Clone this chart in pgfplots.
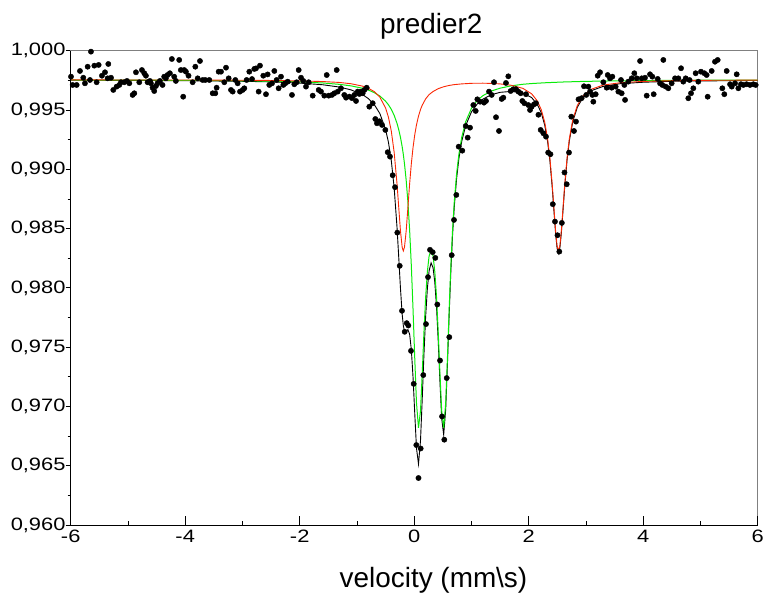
\documentclass[border=0pt]{standalone}
\usepackage{fontspec}
\setmainfont{Liberation Sans}
\newfontfamily\tickfont[FakeStretch=1.22]{Liberation Sans}
\usepackage{pgfplots}
\pgfplotsset{compat=1.18}
\definecolor{fitred}{RGB}{250,40,5}
\definecolor{fitgreen}{RGB}{10,235,10}
\begin{document}
\begin{tikzpicture}
\path[use as bounding box] (-70.7bp,-71.9bp) rectangle (698.3bp,525.1bp);
% main axis: data, y ticks
\begin{axis}[
  scale only axis, width=687bp, height=474.4bp,
  at={(0bp,0bp)}, anchor=south west,
  xmin=-6, xmax=6, ymin=0.960, ymax=1.000,
  xtick=\empty,
  ytick={0.960,0.965,0.970,0.975,0.980,0.985,0.990,0.995,1.000},
  minor y tick num=1,
  ytick pos=left,
  tick align=outside,
  major tick length=5bp, minor tick length=3bp,
  tick style={black, line width=0.8bp},
  axis line style={black!50, line width=1bp},
  yticklabel style={font=\tickfont\fontsize{18}{20}\selectfont, inner xsep=0pt,
    /pgf/number format/.cd, fixed, fixed zerofill, precision=3, use comma, assume math mode=true},
]
\addplot[only marks, mark=*, mark size=2.65bp, black] table {
-5.995 0.99781
-5.966 0.99711
-5.896 0.99711
-5.838 0.99829
-5.780 0.99772
-5.751 0.99725
-5.704 0.99865
-5.663 0.99753
-5.646 0.99992
-5.587 0.99874
-5.547 0.99734
-5.512 0.99880
-5.454 0.99789
-5.401 0.99818
-5.355 0.99767
-5.343 0.99888
-5.296 0.99772
-5.256 0.99669
-5.198 0.99697
-5.151 0.99711
-5.122 0.99734
-5.064 0.99734
-5.017 0.99745
-4.976 0.99725
-4.918 0.99627
-4.889 0.99641
-4.860 0.99818
-4.802 0.99734
-4.756 0.99837
-4.715 0.99810
-4.686 0.99789
-4.657 0.99734
-4.616 0.99745
-4.599 0.99725
-4.570 0.99688
-4.541 0.99660
-4.512 0.99702
-4.483 0.99725
-4.442 0.99745
-4.396 0.99711
-4.367 0.99781
-4.338 0.99767
-4.309 0.99795
-4.268 0.99810
-4.233 0.99930
-4.192 0.99781
-4.163 0.99745
-4.105 0.99922
-4.076 0.99837
-4.035 0.99612
-4.017 0.99837
-3.988 0.99823
-3.942 0.99789
-3.870 0.99734
-3.823 0.99865
-3.782 0.99767
-3.742 0.99913
-3.695 0.99753
-3.649 0.99753
-3.579 0.99753
-3.520 0.99641
-3.474 0.99641
-3.451 0.99688
-3.416 0.99823
-3.375 0.99823
-3.317 0.99734
-3.287 0.99857
-3.241 0.99767
-3.200 0.99669
-3.171 0.99655
-3.124 0.99753
-3.084 0.99725
-3.043 0.99655
-2.996 0.99669
-2.967 0.99683
-2.927 0.99753
-2.880 0.99823
-2.833 0.99761
-2.793 0.99846
-2.764 0.99851
-2.717 0.99655
-2.694 0.99874
-2.636 0.99789
-2.589 0.99633
-2.560 0.99800
-2.531 0.99711
-2.484 0.99725
-2.443 0.99829
-2.403 0.99753
-2.368 0.99683
-2.327 0.99781
-2.286 0.99711
-2.251 0.99725
-2.210 0.99739
-2.135 0.99627
-2.094 0.99717
-2.053 0.99734
-2.018 0.99837
-1.977 0.99772
-1.937 0.99745
-1.890 0.99697
-1.843 0.99734
-1.773 0.99621
-1.668 0.99669
-1.628 0.99655
-1.570 0.99621
-1.528 0.99795
-1.494 0.99621
-1.436 0.99627
-1.395 0.99641
-1.354 0.99837
-1.336 0.99655
-1.279 0.99683
-1.221 0.99627
-1.191 0.99604
-1.133 0.99613
-1.086 0.99600
-1.046 0.99627
-1.016 0.99576
-0.987 0.99655
-0.958 0.99635
-0.929 0.99655
-0.900 0.99641
-0.871 0.99669
-0.830 0.99688
-0.784 0.99528
-0.725 0.99557
-0.679 0.99424
-0.650 0.99388
-0.609 0.99405
-0.562 0.99374
-0.504 0.99332
-0.463 0.99144
-0.423 0.99107
-0.376 0.98950
-0.335 0.98849
-0.295 0.98466
-0.253 0.98186
-0.213 0.97807
-0.166 0.97630
-0.131 0.97703
-0.103 0.97683
-0.056 0.97469
-0.009 0.97191
0.037 0.96675
0.075 0.96397
0.113 0.96646
0.159 0.97265
0.206 0.97695
0.241 0.98091
0.276 0.98321
0.323 0.98301
0.369 0.98253
0.404 0.97860
0.451 0.97388
0.486 0.96916
0.526 0.96720
0.568 0.97240
0.613 0.97585
0.655 0.98276
0.695 0.98573
0.736 0.98784
0.777 0.99191
0.840 0.99157
0.900 0.99365
0.934 0.99267
0.975 0.99351
1.033 0.99542
1.074 0.99492
1.103 0.99590
1.150 0.99570
1.219 0.99562
1.254 0.99576
1.307 0.99655
1.353 0.99627
1.394 0.99734
1.429 0.99439
1.481 0.99323
1.528 0.99593
1.557 0.99604
1.603 0.99728
1.644 0.99784
1.685 0.99660
1.731 0.99675
1.778 0.99675
1.819 0.99655
1.860 0.99641
1.889 0.99576
1.924 0.99557
1.953 0.99633
1.993 0.99542
2.023 0.99500
2.052 0.99528
2.093 0.99548
2.128 0.99557
2.170 0.99460
2.209 0.99332
2.256 0.99304
2.302 0.99275
2.340 0.99141
2.380 0.99127
2.421 0.98706
2.459 0.98559
2.503 0.98444
2.535 0.98306
2.579 0.98548
2.625 0.98973
2.664 0.98874
2.704 0.99141
2.744 0.99444
2.791 0.99323
2.826 0.99402
2.870 0.99590
2.925 0.99600
2.966 0.99700
3.005 0.99627
3.042 0.99697
3.071 0.99655
3.112 0.99627
3.129 0.99570
3.170 0.99633
3.205 0.99789
3.246 0.99818
3.304 0.99734
3.362 0.99688
3.380 0.99795
3.420 0.99767
3.449 0.99688
3.461 0.99781
3.519 0.99697
3.566 0.99655
3.612 0.99753
3.624 0.99641
3.671 0.99711
3.683 0.99585
3.740 0.99739
3.799 0.99767
3.845 0.99810
3.886 0.99767
3.945 0.99913
3.974 0.99767
4.032 0.99772
4.061 0.99621
4.119 0.99801
4.160 0.99781
4.183 0.99633
4.253 0.99762
4.294 0.99725
4.334 0.99711
4.352 0.99922
4.393 0.99697
4.439 0.99683
4.497 0.99725
4.556 0.99767
4.614 0.99767
4.661 0.99852
4.701 0.99739
4.742 0.99767
4.788 0.99599
4.810 0.99753
4.835 0.99641
4.876 0.99683
4.916 0.99810
4.963 0.99739
5.009 0.99823
5.068 0.99810
5.108 0.99795
5.126 0.99612
5.196 0.99829
5.254 0.99907
5.301 0.99922
5.382 0.99683
5.417 0.99633
5.458 0.99829
5.517 0.99717
5.546 0.99697
5.604 0.99725
5.633 0.99801
5.662 0.99683
5.708 0.99717
5.749 0.99711
5.807 0.99717
5.866 0.99711
5.924 0.99717
5.965 0.99711
};
% total fit
\addplot[black, line width=0.9bp, mark=none] table {
-6 0.99751
-5 0.99750
-4 0.99747
-3 0.99742
-2.5 0.99737
-2 0.99727
-1.6 0.99713
-1.3 0.99693
-1.1 0.99669
-0.9 0.99629
-0.8 0.99596
-0.7 0.99548
-0.6 0.99470
-0.5 0.99336
-0.45 0.99228
-0.4 0.99073
-0.35 0.98843
-0.3 0.98509
-0.27 0.98258
-0.24 0.97996
-0.21 0.97777
-0.19 0.97682
-0.17 0.97635
-0.14 0.97634
-0.11 0.97648
-0.08 0.97610
-0.05 0.97479
-0.02 0.97244
0.01 0.96938
0.04 0.96649
0.075 0.96515
0.11 0.96711
0.14 0.97061
0.17 0.97438
0.2 0.97760
0.23 0.97996
0.26 0.98143
0.295 0.98211
0.33 0.98169
0.36 0.98047
0.39 0.97839
0.42 0.97549
0.45 0.97206
0.48 0.96899
0.515 0.96762
0.55 0.96974
0.58 0.97349
0.61 0.97766
0.64 0.98140
0.67 0.98445
0.70 0.98684
0.74 0.98919
0.78 0.99088
0.83 0.99235
0.9 0.99370
1.0 0.99484
1.1 0.99550
1.2 0.99592
1.35 0.99629
1.5 0.99649
1.7 0.99657
1.9 0.99643
2.05 0.99605
2.15 0.99548
2.22 0.99476
2.28 0.99372
2.33 0.99235
2.37 0.99073
2.41 0.98853
2.44 0.98655
2.47 0.98459
2.495 0.98337
2.52 0.98291
2.545 0.98338
2.57 0.98461
2.6 0.98659
2.63 0.98858
2.67 0.99078
2.71 0.99241
2.77 0.99403
2.85 0.99524
2.95 0.99606
3.1 0.99664
3.3 0.99699
3.6 0.99722
4 0.99734
4.5 0.99742
5 0.99745
6 0.99749
};
% green doublet
\addplot[fitgreen, line width=1bp, mark=none] table {
-6 0.99753
-5 0.99752
-4 0.99750
-3 0.99746
-2.5 0.99743
-2 0.99737
-1.6 0.99728
-1.3 0.99716
-1.1 0.99703
-0.9 0.99683
-0.8 0.99668
-0.7 0.99647
-0.6 0.99618
-0.5 0.99574
-0.45 0.99544
-0.4 0.99506
-0.35 0.99455
-0.3 0.99387
-0.27 0.99334
-0.24 0.99270
-0.21 0.99190
-0.19 0.99125
-0.17 0.99048
-0.14 0.98907
-0.11 0.98725
-0.08 0.98489
-0.05 0.98186
-0.02 0.97814
0.01 0.97401
0.04 0.97029
0.075 0.96821
0.11 0.96963
0.14 0.97275
0.17 0.97624
0.2 0.97922
0.23 0.98137
0.26 0.98268
0.295 0.98320
0.33 0.98268
0.36 0.98137
0.39 0.97922
0.42 0.97624
0.45 0.97275
0.48 0.96963
0.515 0.96821
0.55 0.97029
0.58 0.97401
0.61 0.97814
0.64 0.98186
0.67 0.98489
0.70 0.98725
0.74 0.98959
0.78 0.99125
0.83 0.99270
0.9 0.99402
1.0 0.99514
1.1 0.99580
1.2 0.99621
1.35 0.99660
1.5 0.99684
1.7 0.99704
1.9 0.99717
2.05 0.99723
2.3 0.99730
2.6 0.99736
2.95 0.99741
3.3 0.99744
3.6 0.99746
4 0.99748
4.5 0.99750
5 0.99751
6 0.99752
};
% red doublet
\addplot[fitred, line width=0.9bp, mark=none] table {
-6 0.99754
-5 0.99753
-4 0.99753
-3 0.99751
-2.5 0.99749
-2 0.99745
-1.6 0.99740
-1.3 0.99732
-1.1 0.99721
-0.9 0.99701
-0.8 0.99683
-0.7 0.99656
-0.6 0.99608
-0.5 0.99517
-0.45 0.99439
-0.4 0.99322
-0.35 0.99143
-0.3 0.98877
-0.27 0.98678
-0.24 0.98481
-0.21 0.98342
-0.19 0.98312
-0.17 0.98342
-0.14 0.98481
-0.11 0.98678
-0.08 0.98877
-0.05 0.99048
-0.02 0.99185
0.01 0.99292
0.04 0.99375
0.075 0.99448
0.11 0.99504
0.14 0.99540
0.2 0.99594
0.26 0.99630
0.33 0.99656
0.42 0.99680
0.515 0.99696
0.61 0.99707
0.70 0.99714
0.83 0.99720
1.0 0.99725
1.2 0.99726
1.35 0.99724
1.5 0.99720
1.7 0.99708
1.9 0.99682
2.05 0.99637
2.15 0.99577
2.22 0.99502
2.28 0.99397
2.33 0.99258
2.37 0.99096
2.41 0.98876
2.44 0.98677
2.47 0.98480
2.495 0.98357
2.52 0.98311
2.545 0.98357
2.57 0.98480
2.6 0.98677
2.63 0.98876
2.67 0.99096
2.71 0.99258
2.77 0.99419
2.85 0.99539
2.95 0.99619
3.1 0.99676
3.3 0.99710
3.6 0.99730
4 0.99741
4.5 0.99747
5 0.99750
6 0.99752
};
\end{axis}
% second axis: x ticks pointing inward
\begin{axis}[
  scale only axis, width=687bp, height=474.4bp,
  at={(0bp,0bp)}, anchor=south west,
  xmin=-6, xmax=6, ymin=0.960, ymax=1.000,
  ytick=\empty,
  xtick={-6,-4,-2,0,2,4,6},
  minor x tick num=1,
  xtick pos=left,
  tick align=inside,
  major tick length=9bp, minor tick length=4.5bp,
  tick style={black, line width=0.8bp},
  axis line style={draw=none},
  xticklabel style={font=\tickfont\fontsize{18}{20}\selectfont, inner ysep=0pt, yshift=-5bp,
    /pgf/number format/assume math mode=true},
]
\end{axis}
\draw[black, line width=1.1bp] (0bp,474.4bp) -- (0bp,0bp) -- (687bp,0bp);
\node[anchor=base, font=\fontsize{28}{32}\selectfont] at (360.6bp,491.8bp) {predier2};
\node[anchor=base, font=\fontsize{28}{32}\selectfont] at (362.8bp,-61.9bp) {velocity (mm\textbackslash s)};
\end{tikzpicture}
\end{document}
